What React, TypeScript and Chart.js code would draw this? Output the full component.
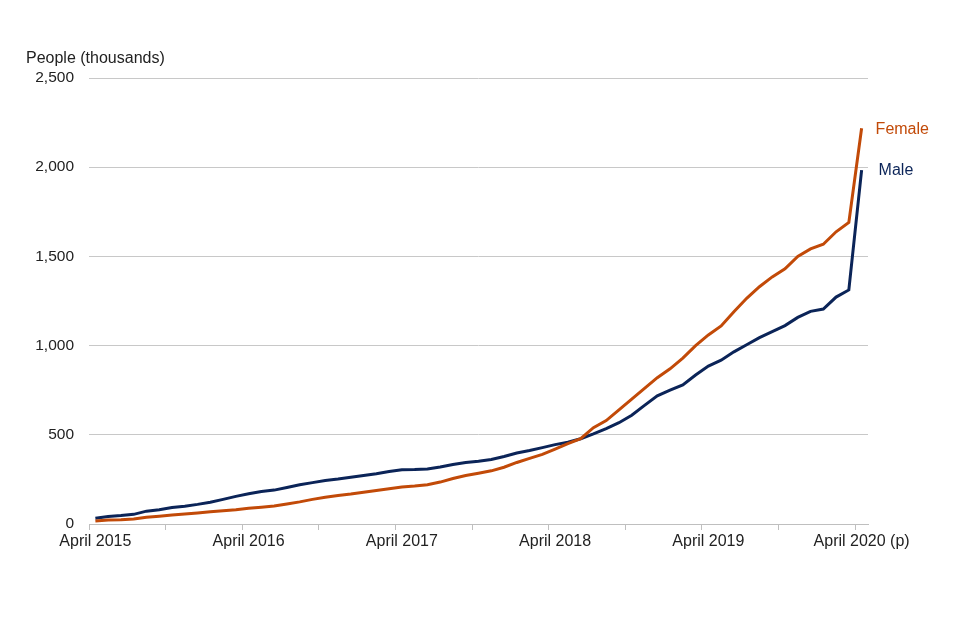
import React, { useEffect, useRef } from "react";
import { Chart, registerables } from "chart.js";

Chart.register(...registerables);

const MONTHS = ["April", "May", "June", "July", "August", "September", "October", "November", "December", "January", "February", "March"];
const START_YEAR = 2015;
const MONTH_COUNT = 61;
const LAST_LABEL = "April 2020 (p)";

const categories: string[] = Array.from({ length: MONTH_COUNT }, (_, i) => {
  const m = MONTHS[i % 12];
  const y = START_YEAR + Math.floor((i + 3) / 12);
  return i === MONTH_COUNT - 1 ? LAST_LABEL : `${m} ${y}`;
});

const femaleValues = [
  17, 22, 24, 28, 38, 44, 50, 56, 62, 68, 74, 80,
  88, 94, 101, 112, 124, 138, 150, 160, 168, 178, 188, 198,
  208, 213, 220, 235, 255, 272, 285, 298, 318, 345, 368, 390,
  420, 450, 478, 540, 580, 640, 700, 760, 820, 870, 930, 1000,
  1060, 1110, 1190, 1265, 1330, 1385, 1430, 1500, 1542, 1568, 1638, 1690,
  2218,
];

const maleValues = [
  32, 42, 47, 54, 72, 80, 92, 100, 110, 122, 138, 155,
  170, 182, 190, 205, 220, 232, 244, 252, 262, 272, 282, 294,
  304, 305, 308, 320, 334, 345, 352, 362, 378, 398, 412, 428,
  445, 458, 478, 505, 535, 568, 610, 665, 718, 750, 780, 835,
  885, 918, 965, 1005, 1045, 1078, 1112, 1158, 1192, 1205, 1272, 1312,
  1984,
];

const yTicks = [0, 500, 1000, 1500, 2000, 2500];
const yTitle = "People (thousands)";
const seriesNames = ["Female", "Male"];
const seriesColors = ["#C24A08", "#0B2458"];

const FONT = "'Liberation Sans', Arial, sans-serif";

const annotations = {
  id: "annotations",
  afterDraw(chart: any) {
    const { ctx, chartArea } = chart;
    ctx.save();
    ctx.font = `16px ${FONT}`;
    ctx.fillStyle = "#222222";
    ctx.textAlign = "left";
    ctx.textBaseline = "middle";
    ctx.fillText(yTitle, chartArea.left - 63, chartArea.top - 19);
    chart.data.datasets.forEach((ds: any, di: number) => {
      const meta = chart.getDatasetMeta(di);
      const pt = meta.data[meta.data.length - 1];
      ctx.fillStyle = ds.borderColor;
      ctx.fillText(ds.label, pt.x + (di === 0 ? 14 : 17), pt.y + 1);
    });
    ctx.restore();
  },
};

export default function App() {
  const ref = useRef<HTMLCanvasElement | null>(null);
  useEffect(() => {
    if (!ref.current) return;
    const chart = new Chart(ref.current, {
      type: "line",
      data: {
        labels: categories,
        datasets: [
          {
            label: seriesNames[0],
            data: femaleValues,
            borderColor: seriesColors[0],
            backgroundColor: seriesColors[0],
            borderWidth: 3,
            pointRadius: 0,
            tension: 0,
          },
          {
            label: seriesNames[1],
            data: maleValues,
            borderColor: seriesColors[1],
            backgroundColor: seriesColors[1],
            borderWidth: 3,
            pointRadius: 0,
            tension: 0,
          },
        ],
      },
      options: {
        animation: false,
        responsive: false,
        layout: { padding: { left: 0, top: 78, right: 92, bottom: 76 } },
        plugins: {
          legend: { display: false },
          tooltip: { enabled: false },
          title: { display: false },
        },
        scales: {
          x: {
            type: "category",
            offset: true,
            grid: {
              offset: true,
              drawOnChartArea: false,
              drawTicks: true,
              tickLength: 6,
              tickColor: (c: any) => (c.index % 6 === 0 ? "#bfbfbf" : "rgba(0,0,0,0)"),
            },
            border: { display: true, color: "#bfbfbf", width: 1 },
            ticks: {
              autoSkip: false,
              maxRotation: 0,
              minRotation: 0,
              padding: 2,
              color: "#222222",
              font: { family: FONT, size: 16 },
              callback: (_v: any, i: number) => (i % 12 === 0 ? categories[i] : ""),
            },
            afterFit: (s: any) => {
              s.height = 40;
            },
          },
          y: {
            min: yTicks[0],
            max: yTicks[yTicks.length - 1],
            afterBuildTicks: (s: any) => {
              s.ticks = yTicks.map((v) => ({ value: v }));
            },
            grid: { color: "#c8c8c8", drawTicks: false, lineWidth: 1 },
            border: { display: false },
            ticks: {
              padding: 15,
              color: "#222222",
              font: { family: FONT, size: 15.5 },
              callback: (v: any) => Number(v).toLocaleString("en-GB"),
            },
            afterFit: (s: any) => {
              s.width = 89;
            },
          },
        },
      },
      plugins: [annotations],
    });
    return () => chart.destroy();
  }, []);
  return (
    <div style={{ position: "fixed", left: 0, top: 0, width: 960, height: 640, background: "#ffffff" }}>
      <canvas ref={ref} width={960} height={640} />
    </div>
  );
}
